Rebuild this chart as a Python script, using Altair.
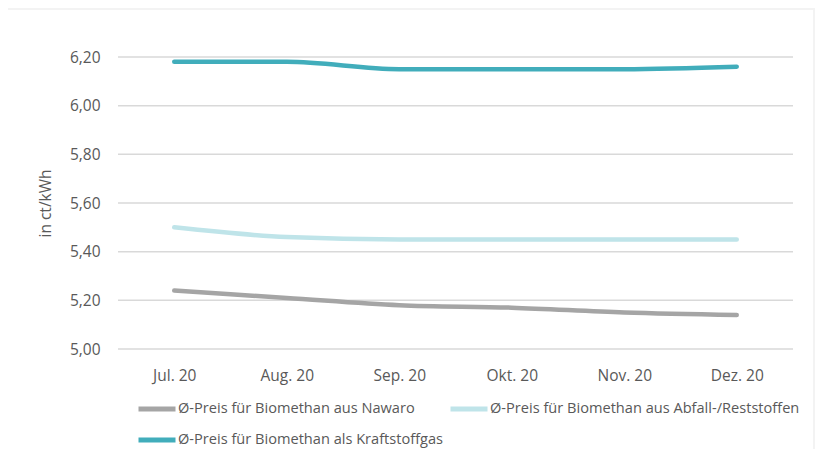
import altair as alt
import pandas as pd

months = ["Jul. 20", "Aug. 20", "Sep. 20", "Okt. 20", "Nov. 20", "Dez. 20"]
series_names = [
    "Ø-Preis für Biomethan aus Nawaro",
    "Ø-Preis für Biomethan als Kraftstoffgas",
    "Ø-Preis für Biomethan aus Abfall-/Reststoffen",
]
nawaro = [5.24, 5.21, 5.18, 5.17, 5.15, 5.14]
kraftstoff = [6.18, 6.18, 6.15, 6.15, 6.15, 6.16]
abfall = [5.50, 5.46, 5.45, 5.45, 5.45, 5.45]
colors = ["#a5a5a5", "#41adbb", "#bfe4e9"]
y_ticks = [5.0, 5.2, 5.4, 5.6, 5.8, 6.0, 6.2]

rows = []
for name, vals in zip(series_names, [nawaro, kraftstoff, abfall]):
    for m, v in zip(months, vals):
        rows.append({"Monat": m, "Serie": name, "Wert": v})
df = pd.DataFrame(rows)
grid_df = pd.DataFrame({"Wert": y_ticks})

FONT = "Open Sans"
TXT = "#595959"

yscale = alt.Scale(domain=[5.0, 6.2], nice=False, zero=False)

bg = alt.Chart(pd.DataFrame({"a": [0]})).mark_rect(color="white").encode(
    x=alt.value(-110), x2=alt.value(695), y=alt.value(-47), y2=alt.value(400)
)

grid = alt.Chart(grid_df).mark_rule(color="#d9d9d9", strokeWidth=1.5).encode(
    y=alt.Y("Wert:Q", scale=yscale), x=alt.value(0), x2=alt.value(675)
)

lines = alt.Chart(df).mark_line(strokeWidth=4.5, interpolate="monotone", strokeCap="round").encode(
    x=alt.X("Monat:N", sort=months, scale=alt.Scale(type="point", padding=0.5),
            axis=alt.Axis(title=None, domain=False, ticks=False, labelPadding=19, labelAngle=0,
                          labelFontSize=15.5, labelColor=TXT, labelFont=FONT, grid=False,
                          zindex=1)),
    y=alt.Y("Wert:Q", scale=yscale,
            axis=alt.Axis(title="in ct/kWh", values=y_ticks, domain=False, ticks=False,
                          grid=False, zindex=1,
                          labelPadding=18, labelFontSize=15.5, labelColor=TXT, labelFont=FONT,
                          labelExpr="replace(format(datum.value, '.2f'), '.', ',')",
                          titleFont=FONT, titleFontSize=15.5, titleColor=TXT,
                          titleFontWeight="normal", titlePadding=16)),
    color=alt.Color("Serie:N", sort=series_names,
                    scale=alt.Scale(domain=series_names, range=colors),
                    legend=alt.Legend(title=None, orient="none", legendX=18, legendY=331,
                                      columns=2, symbolType="stroke", symbolSize=1369,
                                      symbolStrokeWidth=5, labelFont=FONT, labelFontSize=14.6,
                                      labelColor=TXT, labelOffset=0, rowPadding=-16,
                                      columnPadding=-4, labelLimit=400)),
    detail="Serie:N",
)

chart = alt.layer(bg, grid, lines).properties(
    width=675, height=292,
    padding={"left": 110, "top": 49, "right": 22, "bottom": 100},
    autosize=alt.AutoSizeParams(type="none"),
    background="#f3f3f3",
).configure_view(stroke=None)

chart.save("out.html", embed_options={"renderer": "svg", "actions": False})
